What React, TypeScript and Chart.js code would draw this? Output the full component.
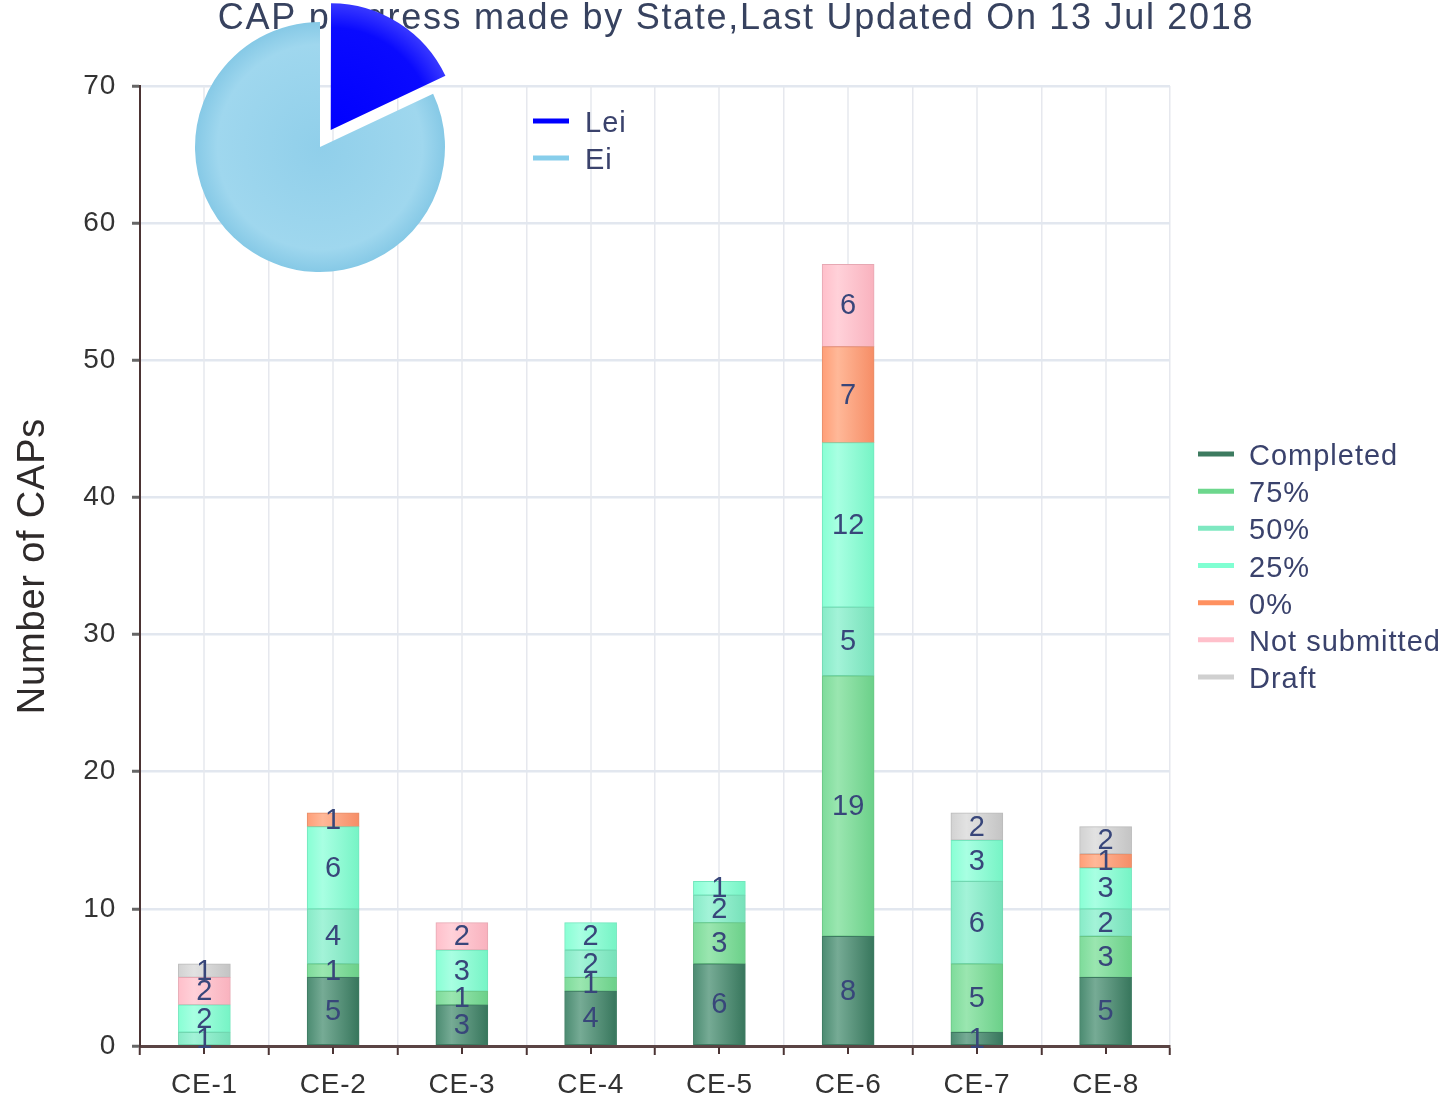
import React, { useEffect, useRef } from 'react';
import { Chart, registerables } from 'chart.js';

Chart.register(...registerables);

// ---------- data ----------
const categories = ['CE-1', 'CE-2', 'CE-3', 'CE-4', 'CE-5', 'CE-6', 'CE-7', 'CE-8'];
const seriesNames = ['Completed', '75%', '50%', '25%', '0%', 'Not submitted', 'Draft'];
const completed = [0, 5, 3, 4, 6, 8, 1, 5];
const pct75 = [0, 1, 1, 1, 3, 19, 5, 3];
const pct50 = [1, 4, 0, 2, 2, 5, 6, 2];
const pct25 = [2, 6, 3, 2, 1, 12, 3, 3];
const pct0 = [0, 1, 0, 0, 0, 7, 0, 1];
const notSubmitted = [2, 0, 2, 0, 0, 6, 0, 0];
const draft = [1, 0, 0, 0, 0, 0, 2, 2];
const seriesValues = [completed, pct75, pct50, pct25, pct0, notSubmitted, draft];

const yMin = 0;
const yMax = 70;
const yStep = 10;

const pieLabels = ['Lei', 'Ei'];
const pieValues = [18, 82];

const titleText = 'CAP progress made by State,Last Updated On 13 Jul 2018';
const yAxisTitle = 'Number of CAPs';

// ---------- styles ----------
const FONT = '"Liberation Sans", Arial, Helvetica, sans-serif';
const barStyles = [
  { base: '#4b8b71', light: '#76ab95', dark: '#37765c', border: '#3d7a61', legend: '#3d7b60' },
  { base: '#7ddb9a', light: '#9ae6b0', dark: '#6bd089', border: '#6ac685', legend: '#6dd78d' },
  { base: '#87ebc7', light: '#a3f3d8', dark: '#76e1b9', border: '#72d7b1', legend: '#7ee8c1' },
  { base: '#88ffd4', light: '#a8ffe2', dark: '#76f4c5', border: '#72e6bd', legend: '#80ffd2' },
  { base: '#ff9e77', light: '#ffb898', dark: '#f68d66', border: '#e68e6a', legend: '#ff9160' },
  { base: '#ffbfca', light: '#ffd1d9', dark: '#f9b2be', border: '#e6a8b3', legend: '#ffc0cb' },
  { base: '#d2d2d2', light: '#e2e2e2', dark: '#c4c4c4', border: '#bbbbbb', legend: '#d0d0d0' },
];
const pieStyles = [
  { stops: ['#0000ff', '#0a0aff', '#3535ff'], legend: '#0000ff' },
  { stops: ['#90cfea', '#9fd7ee', '#86c9e6'], legend: '#87ceeb' },
];
const BAR_W = 52;
const PIE_R = 125;

const titlePlugin = {
  id: 'customTitle',
  afterDraw(chart: any) {
    const { ctx } = chart;
    ctx.save();
    ctx.letterSpacing = '1.7px';
    ctx.font = `36px ${FONT}`;
    ctx.fillStyle = '#37425f';
    ctx.textAlign = 'center';
    ctx.textBaseline = 'alphabetic';
    ctx.fillText(titleText, 736, 29);
    ctx.restore();
  },
};

const spacingPlugin = {
  id: 'spacing',
  beforeDraw(chart: any) {
    chart.ctx.letterSpacing = '0.8px';
  },
};

const centerGridPlugin = {
  id: 'centerGrid',
  beforeDatasetsDraw(chart: any) {
    const { ctx, chartArea } = chart;
    const xs = chart.scales.x;
    ctx.save();
    categories.forEach((_, i) => {
      const x = Math.round(xs.getPixelForValue(i));
      ctx.strokeStyle = '#e6e8ee';
      ctx.lineWidth = 1.5;
      ctx.beginPath();
      ctx.moveTo(x, chartArea.top);
      ctx.lineTo(x, chartArea.bottom - 2);
      ctx.stroke();
      ctx.strokeStyle = '#4b3434';
      ctx.lineWidth = 2;
      ctx.beginPath();
      ctx.moveTo(x, chartArea.bottom + 1);
      ctx.lineTo(x, chartArea.bottom + 8);
      ctx.stroke();
    });
    ctx.restore();
  },
};

const valueLabelPlugin = {
  id: 'valueLabels',
  afterDatasetsDraw(chart: any) {
    const { ctx } = chart;
    ctx.save();
    ctx.letterSpacing = '0px';
    ctx.font = `29px ${FONT}`;
    ctx.fillStyle = '#38467a';
    ctx.textAlign = 'center';
    ctx.textBaseline = 'middle';
    chart.data.datasets.forEach((ds: any, di: number) => {
      const meta = chart.getDatasetMeta(di);
      meta.data.forEach((el: any, i: number) => {
        const v = ds.data[i];
        if (!v) return;
        const { x, y, base } = el.getProps(['x', 'y', 'base'], true);
        ctx.fillText(String(v), x, (y + base) / 2 + 1);
      });
    });
    ctx.restore();
  },
};

const barLegendPlugin = {
  id: 'barLegend',
  afterDraw(chart: any) {
    const { ctx, chartArea } = chart;
    ctx.save();
    ctx.letterSpacing = '1px';
    ctx.font = `29px ${FONT}`;
    ctx.textAlign = 'left';
    ctx.textBaseline = 'alphabetic';
    const x0 = chartArea.right + 28;
    chart.data.datasets.forEach((ds: any, i: number) => {
      const y = 454 + i * 37.17;
      ctx.strokeStyle = barStyles[i].legend;
      ctx.lineWidth = 5;
      ctx.beginPath();
      ctx.moveTo(x0, y);
      ctx.lineTo(x0 + 36, y);
      ctx.stroke();
      ctx.fillStyle = '#3a426c';
      ctx.fillText(ds.label, x0 + 51, y + 11);
    });
    ctx.restore();
  },
};

const pieLegendPlugin = {
  id: 'pieLegend',
  afterDraw(chart: any) {
    const { ctx } = chart;
    ctx.save();
    ctx.letterSpacing = '1px';
    ctx.font = `29px ${FONT}`;
    ctx.textAlign = 'left';
    ctx.textBaseline = 'alphabetic';
    chart.data.labels.forEach((lab: string, i: number) => {
      const y = 121 + i * 37;
      ctx.strokeStyle = pieStyles[i].legend;
      ctx.lineWidth = 5;
      ctx.beginPath();
      ctx.moveTo(353, y);
      ctx.lineTo(389, y);
      ctx.stroke();
      ctx.fillStyle = '#3a426c';
      ctx.fillText(lab, 405, y + 11);
    });
    ctx.restore();
  },
};

function barFill(i: number) {
  const s = barStyles[i];
  return (c: any) => {
    const chart = c.chart;
    const xs = chart.scales && chart.scales.x;
    if (!xs || c.type !== 'data' || typeof c.dataIndex !== 'number') return s.base;
    const cx = xs.getPixelForValue(c.dataIndex);
    if (!Number.isFinite(cx)) return s.base;
    const g = chart.ctx.createLinearGradient(cx - BAR_W / 2, 0, cx + BAR_W / 2, 0);
    g.addColorStop(0, s.base);
    g.addColorStop(0.3, s.light);
    g.addColorStop(1, s.dark);
    return g;
  };
}

function pieFill(c: any) {
  const idx = typeof c.dataIndex === 'number' ? c.dataIndex : 0;
  const s = pieStyles[idx] || pieStyles[0];
  const chart = c.chart;
  const ca = chart.chartArea;
  if (!ca) return s.legend;
  const cx = (ca.left + ca.right) / 2;
  const cy = (ca.top + ca.bottom) / 2;
  if (!Number.isFinite(cx) || !Number.isFinite(cy)) return s.legend;
  const g = chart.ctx.createRadialGradient(cx, cy, 0, cx, cy, PIE_R);
  g.addColorStop(0, s.stops[0]);
  g.addColorStop(0.82, s.stops[1]);
  g.addColorStop(1, s.stops[2]);
  return g;
}

export default function App() {
  const mainRef = useRef<HTMLCanvasElement>(null);
  const pieRef = useRef<HTMLCanvasElement>(null);

  useEffect(() => {
    const main = new Chart(mainRef.current as HTMLCanvasElement, {
      type: 'bar',
      data: {
        labels: categories,
        datasets: seriesNames.map((name, i) => ({
          label: name,
          data: seriesValues[i],
          backgroundColor: barFill(i),
          borderColor: barStyles[i].border,
          borderWidth: 1,
          borderSkipped: false,
          barThickness: BAR_W,
        })),
      },
      options: {
        responsive: false,
        animation: false,
        devicePixelRatio: 1,
        events: [],
        layout: { padding: { left: 0, top: 86, right: 278, bottom: 0 } },
        plugins: {
          legend: { display: false },
          title: { display: false },
          tooltip: { enabled: false },
        },
        scales: {
          x: {
            stacked: true,
            afterFit: (s: any) => { s.height = 54; },
            grid: {
              offset: true,
              color: '#e6e8ee',
              lineWidth: 1.5,
              tickLength: 9,
              tickColor: '#4b3434',
              tickWidth: 2,
            },
            border: { display: true, color: '#5a4444', width: 3 },
            ticks: {
              autoSkip: false,
              maxRotation: 0,
              padding: 13,
              color: '#333333',
              font: { family: FONT, size: 28 },
            },
          },
          y: {
            stacked: true,
            min: yMin,
            max: yMax,
            afterFit: (s: any) => { s.width = 140; },
            grid: {
              color: '#e2e7ef',
              lineWidth: 2.5,
              tickLength: 8,
              tickColor: '#666666',
              tickWidth: 3,
            },
            border: { display: true, color: '#4b3434', width: 2 },
            ticks: {
              stepSize: yStep,
              padding: 16,
              color: '#333333',
              font: { family: FONT, size: 28 },
            },
            title: {
              display: true,
              text: yAxisTitle,
              color: '#2e2a2a',
              font: { family: FONT, size: 38 },
              padding: { top: 11, bottom: 0 },
            },
          },
        },
      },
      plugins: [spacingPlugin, centerGridPlugin, valueLabelPlugin, barLegendPlugin, titlePlugin],
    } as any);

    const pie = new Chart(pieRef.current as HTMLCanvasElement, {
      type: 'pie',
      data: {
        labels: pieLabels,
        datasets: [
          {
            data: pieValues,
            backgroundColor: pieFill,
            borderWidth: 0,
            borderColor: 'rgba(0,0,0,0)',
            offset: [80, 0],
            radius: PIE_R,
          },
        ],
      },
      options: {
        responsive: false,
        animation: false,
        devicePixelRatio: 1,
        events: [],
        layout: { padding: { left: 0, top: 0, right: 200, bottom: 6 } },
        plugins: {
          legend: { display: false },
          tooltip: { enabled: false },
        },
      },
      plugins: [pieLegendPlugin],
    } as any);

    return () => {
      main.destroy();
      pie.destroy();
    };
  }, []);

  return (
    <div style={{ position: 'absolute', left: 0, top: 0, width: 1448, height: 1100, background: '#ffffff', overflow: 'hidden' }}>
      <canvas ref={mainRef} width={1448} height={1100} style={{ position: 'absolute', left: 0, top: 0 }} />
      <canvas ref={pieRef} width={480} height={300} style={{ position: 'absolute', left: 180, top: 0, pointerEvents: 'none' }} />
    </div>
  );
}
